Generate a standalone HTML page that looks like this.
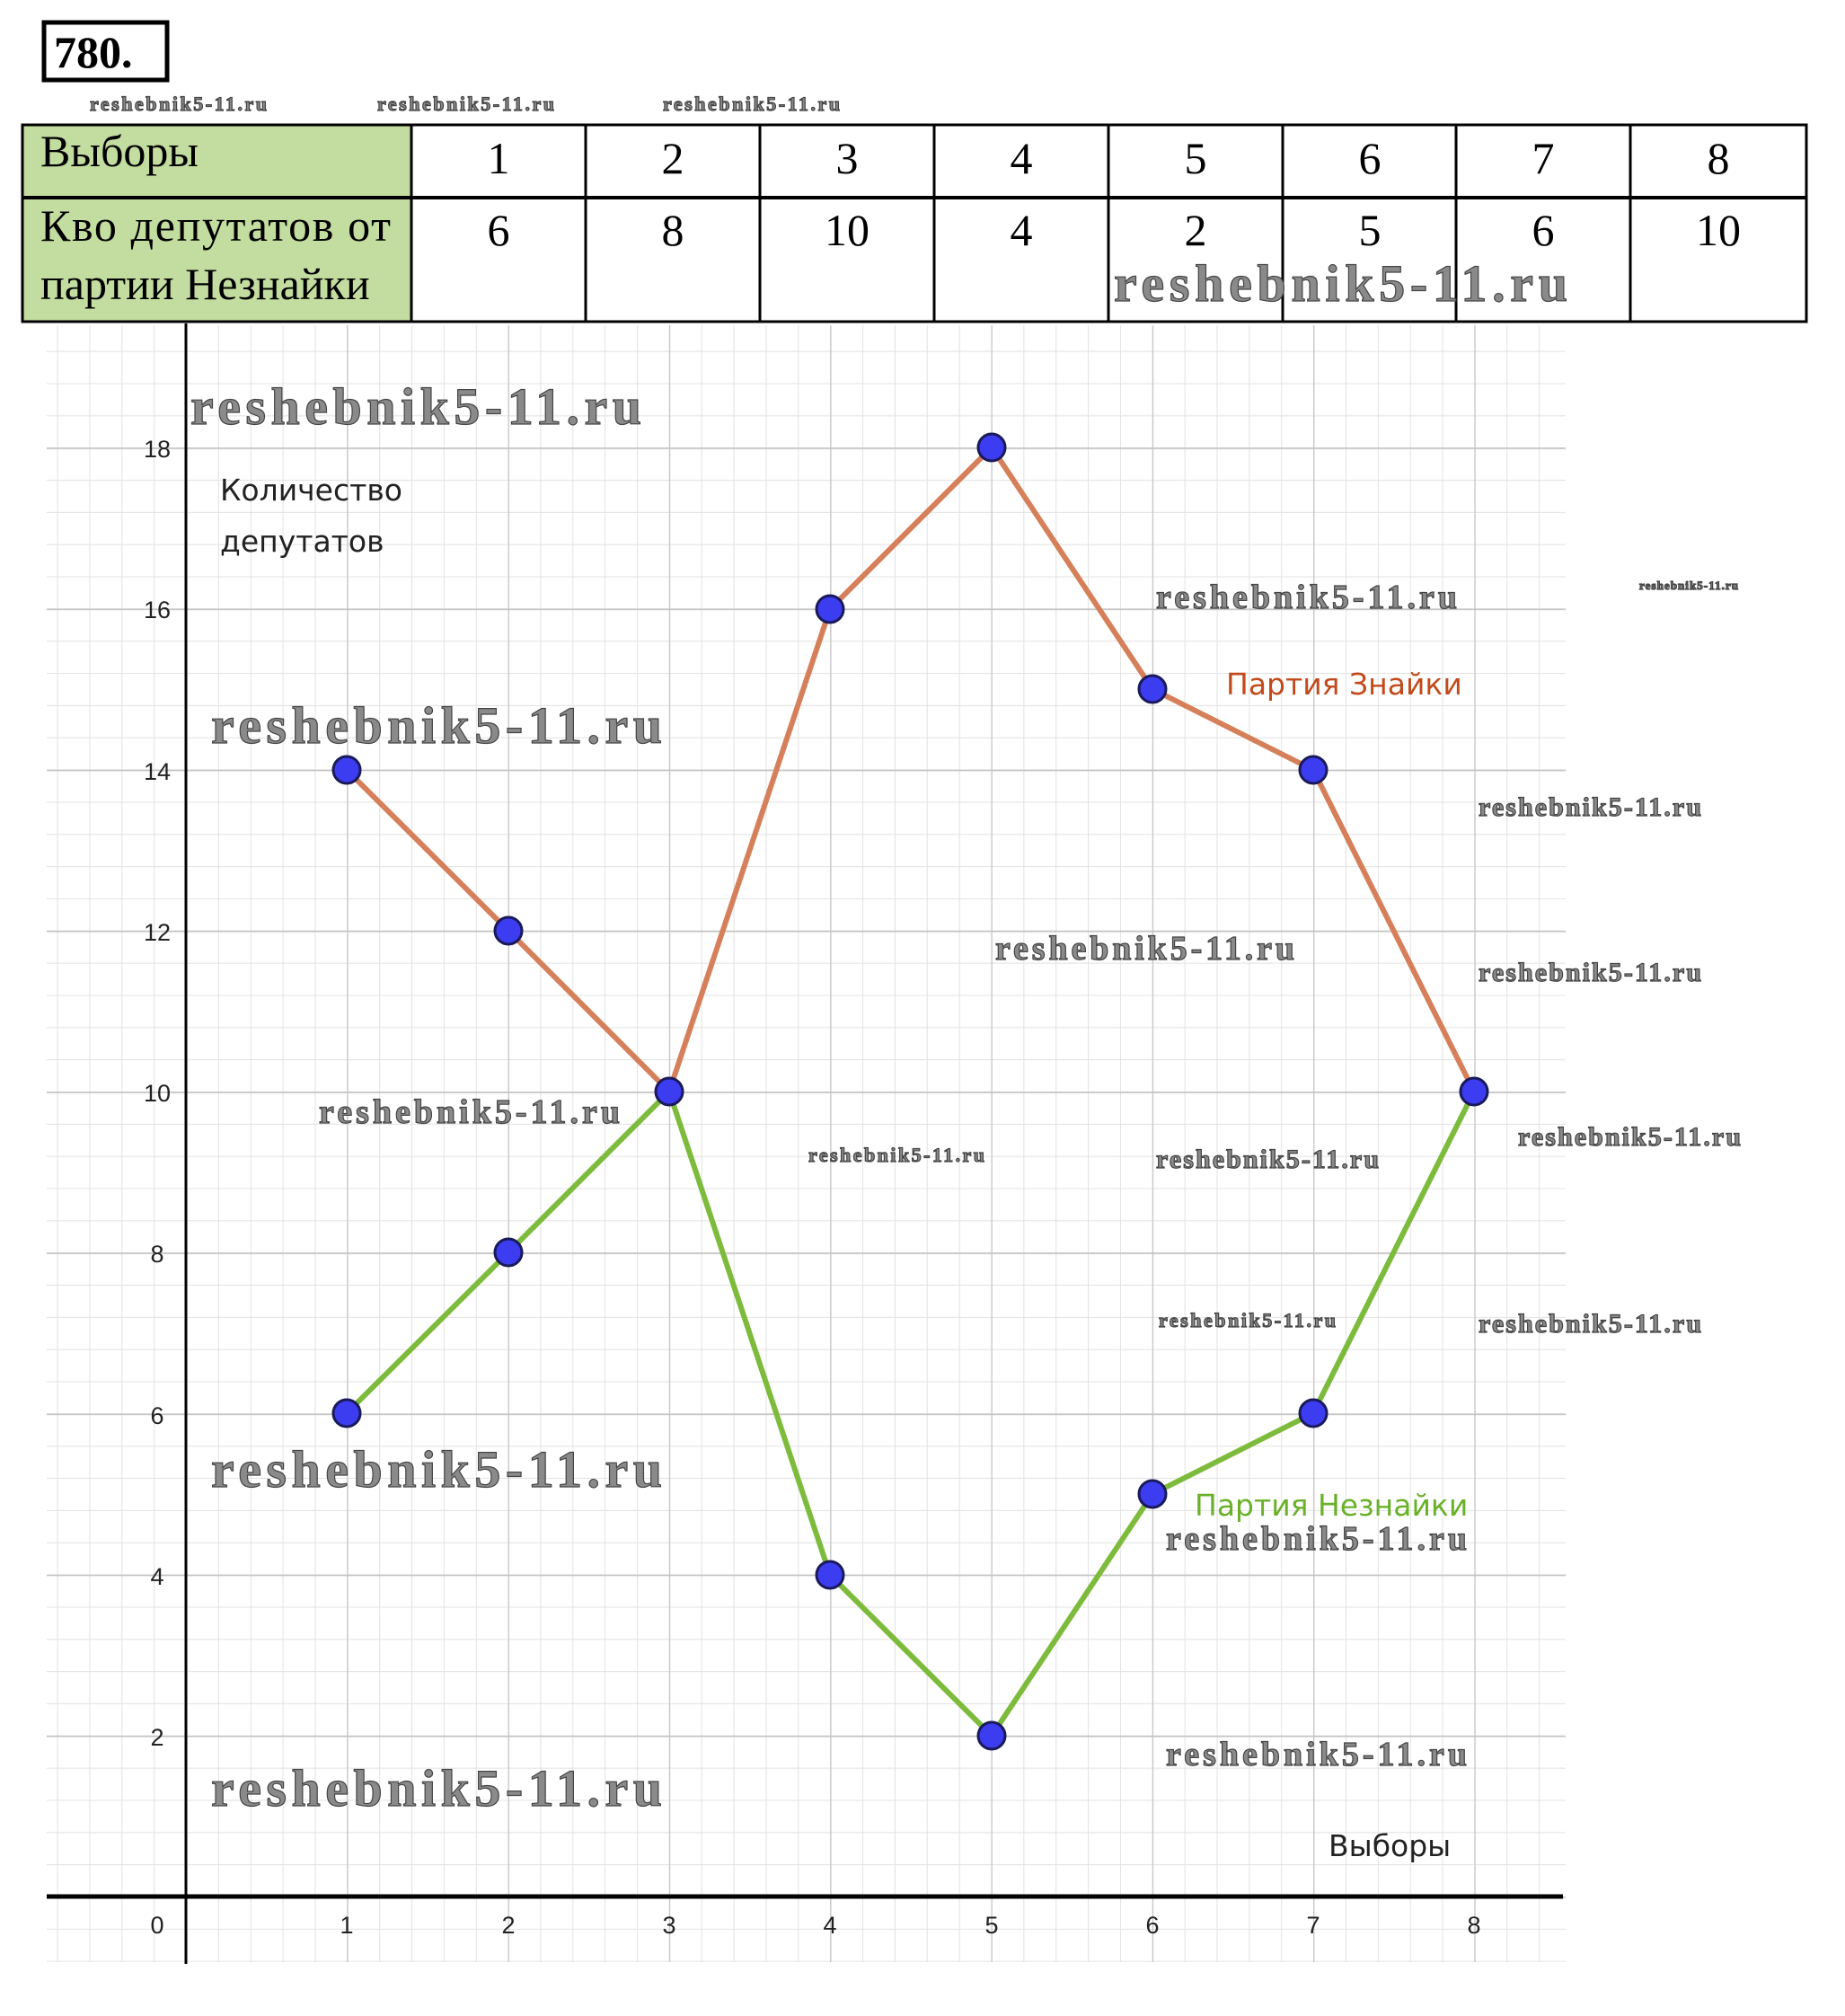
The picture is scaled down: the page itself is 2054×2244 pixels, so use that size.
<!DOCTYPE html>
<html><head><meta charset="utf-8"><style>
html,body{margin:0;padding:0;background:#fff;}
svg{display:block}
.wm{font-family:"Liberation Serif",serif;font-weight:bold;fill:#8a8a8a;stroke:#444;stroke-width:1.2}
.tb{font-family:"Liberation Serif","Noto Serif CJK SC",serif;font-size:50px;fill:#000}
.ax{font-family:"Liberation Sans","DejaVu Sans",sans-serif;font-size:27px;fill:#222}
.lb{font-family:"DejaVu Sans","Liberation Sans",sans-serif;font-size:33px}
</style></head><body>
<svg width="2054" height="2244" viewBox="0 0 2054 2244" xmlns="http://www.w3.org/2000/svg">
<defs>
<pattern id="minor" patternUnits="userSpaceOnUse" x="207" y="2111" width="35.86" height="35.84">
<line x1="0" y1="0" x2="0" y2="35.84" stroke="#e2e2e2" stroke-width="2"/>
<line x1="0" y1="0" x2="35.86" y2="0" stroke="#e2e2e2" stroke-width="2"/>
</pattern>
<pattern id="major" patternUnits="userSpaceOnUse" x="207" y="2111" width="179.3" height="179.2">
<line x1="0" y1="0" x2="0" y2="179.2" stroke="#c4c4c4" stroke-width="2.5"/>
<line x1="0" y1="0" x2="179.3" y2="0" stroke="#c4c4c4" stroke-width="3.5"/>
</pattern>
</defs>
<rect width="2054" height="2244" fill="#fff"/>
<rect x="49" y="25" width="137" height="64" fill="#fff" stroke="#000" stroke-width="5"/>
<text x="60" y="75" font-family="Liberation Serif,serif" font-weight="bold" font-size="50">780.</text>
<text x="100" y="123" class="wm" font-size="22" stroke-width="0.4" textLength="197">reshebnik5-11.ru</text>
<text x="420" y="123" class="wm" font-size="22" stroke-width="0.4" textLength="197">reshebnik5-11.ru</text>
<text x="738" y="123" class="wm" font-size="22" stroke-width="0.4" textLength="197">reshebnik5-11.ru</text>
<rect x="25" y="139" width="433" height="219" fill="#c3dc9f"/>
<g stroke="#000" stroke-width="3" fill="none">
<rect x="25" y="139" width="1986" height="219"/>
<line x1="25" y1="220" x2="2011" y2="220" stroke-width="4"/>
<line x1="458" y1="139" x2="458" y2="358"/><line x1="652" y1="139" x2="652" y2="358"/>
<line x1="846" y1="139" x2="846" y2="358"/><line x1="1040" y1="139" x2="1040" y2="358"/>
<line x1="1234" y1="139" x2="1234" y2="358"/><line x1="1428" y1="139" x2="1428" y2="358"/>
<line x1="1621" y1="139" x2="1621" y2="358"/><line x1="1815" y1="139" x2="1815" y2="358"/>
</g>
<text x="45" y="185" class="tb">Выборы</text>
<text x="45" y="268" class="tb" textLength="390">Кво депутатов от</text>
<text x="45" y="333" class="tb">партии Незнайки</text>
<g class="tb" text-anchor="middle">
<text x="555" y="193">1</text><text x="749" y="193">2</text><text x="943" y="193">3</text><text x="1137" y="193">4</text>
<text x="1331" y="193">5</text><text x="1525" y="193">6</text><text x="1718" y="193">7</text><text x="1913" y="193">8</text>
<text x="555" y="273">6</text><text x="749" y="273">8</text><text x="943" y="273">10</text><text x="1137" y="273">4</text>
<text x="1331" y="273">2</text><text x="1525" y="273">5</text><text x="1718" y="273">6</text><text x="1913" y="273">10</text>
</g>
<text x="1240" y="335" class="wm" font-size="58" textLength="505">reshebnik5-11.ru</text>
<rect x="52" y="362" width="1691" height="1822" fill="url(#minor)"/>
<rect x="52" y="362" width="1691" height="1822" fill="url(#major)"/>
<line x1="52" y1="2111" x2="1740" y2="2111" stroke="#000" stroke-width="5"/>
<line x1="207" y1="360" x2="207" y2="2186" stroke="#000" stroke-width="3"/>
<g class="ax" text-anchor="middle">
<text x="175" y="509">18</text><text x="175" y="688">16</text><text x="175" y="868">14</text><text x="175" y="1047">12</text>
<text x="175" y="1226">10</text><text x="175" y="1405">8</text><text x="175" y="1585">6</text><text x="175" y="1764">4</text><text x="175" y="1943">2</text>
<text x="175" y="2152">0</text>
<text x="386" y="2152">1</text><text x="566" y="2152">2</text><text x="745" y="2152">3</text><text x="924" y="2152">4</text>
<text x="1104" y="2152">5</text><text x="1283" y="2152">6</text><text x="1462" y="2152">7</text><text x="1641" y="2152">8</text>
</g>
<polyline fill="none" stroke="#d5805a" stroke-width="6" points="386,857 566,1036 745,1215 924,678 1104,498 1283,767 1462,857 1641,1215"/>
<polyline fill="none" stroke="#7dbb3c" stroke-width="6" points="386,1573 566,1394 745,1215 924,1753 1104,1932 1283,1663 1462,1573 1641,1215"/>
<g fill="#3c3cf0" stroke="#1a1a5a" stroke-width="3">
<circle cx="386" cy="857" r="15"/><circle cx="566" cy="1036" r="15"/><circle cx="745" cy="1215" r="15"/><circle cx="924" cy="678" r="15"/>
<circle cx="1104" cy="498" r="15"/><circle cx="1283" cy="767" r="15"/><circle cx="1462" cy="857" r="15"/><circle cx="1641" cy="1215" r="15"/>
<circle cx="386" cy="1573" r="15"/><circle cx="566" cy="1394" r="15"/><circle cx="924" cy="1753" r="15"/>
<circle cx="1104" cy="1932" r="15"/><circle cx="1283" cy="1663" r="15"/><circle cx="1462" cy="1573" r="15"/>
</g>
<text x="245" y="557" class="lb" fill="#222">Количество</text>
<text x="245" y="614" class="lb" fill="#222">депутатов</text>
<text x="1365" y="773" class="lb" fill="#c24a1c">Партия Знайки</text>
<text x="1330" y="1687" class="lb" fill="#6ab12a">Партия Незнайки</text>
<text x="1479" y="2066" class="lb" fill="#222">Выборы</text>
<text x="212" y="472" class="wm" font-size="58" textLength="502">reshebnik5-11.ru</text>
<text x="235" y="827" class="wm" font-size="58" textLength="502">reshebnik5-11.ru</text>
<text x="235" y="1655" class="wm" font-size="58" textLength="502">reshebnik5-11.ru</text>
<text x="235" y="2010" class="wm" font-size="58" textLength="502">reshebnik5-11.ru</text>
<text x="355" y="1250" class="wm" font-size="38" textLength="335">reshebnik5-11.ru</text>
<text x="1287" y="677" class="wm" font-size="38" textLength="335">reshebnik5-11.ru</text>
<text x="1108" y="1068" class="wm" font-size="38" textLength="333">reshebnik5-11.ru</text>
<text x="1646" y="908" class="wm" font-size="30" textLength="248">reshebnik5-11.ru</text>
<text x="1646" y="1092" class="wm" font-size="30" textLength="248">reshebnik5-11.ru</text>
<text x="1690" y="1275" class="wm" font-size="30" textLength="248">reshebnik5-11.ru</text>
<text x="1646" y="1483" class="wm" font-size="30" textLength="248">reshebnik5-11.ru</text>
<text x="1287" y="1300" class="wm" font-size="30" textLength="248">reshebnik5-11.ru</text>
<text x="900" y="1293" class="wm" font-size="22" stroke-width="0.4" textLength="196">reshebnik5-11.ru</text>
<text x="1290" y="1477" class="wm" font-size="22" stroke-width="0.4" textLength="197">reshebnik5-11.ru</text>
<text x="1825" y="656" class="wm" font-size="13" stroke-width="0.2" textLength="110">reshebnik5-11.ru</text>
<text x="1298" y="1725" class="wm" font-size="38" textLength="335">reshebnik5-11.ru</text>
<text x="1298" y="1965" class="wm" font-size="38" textLength="335">reshebnik5-11.ru</text>
</svg>
</body></html>
